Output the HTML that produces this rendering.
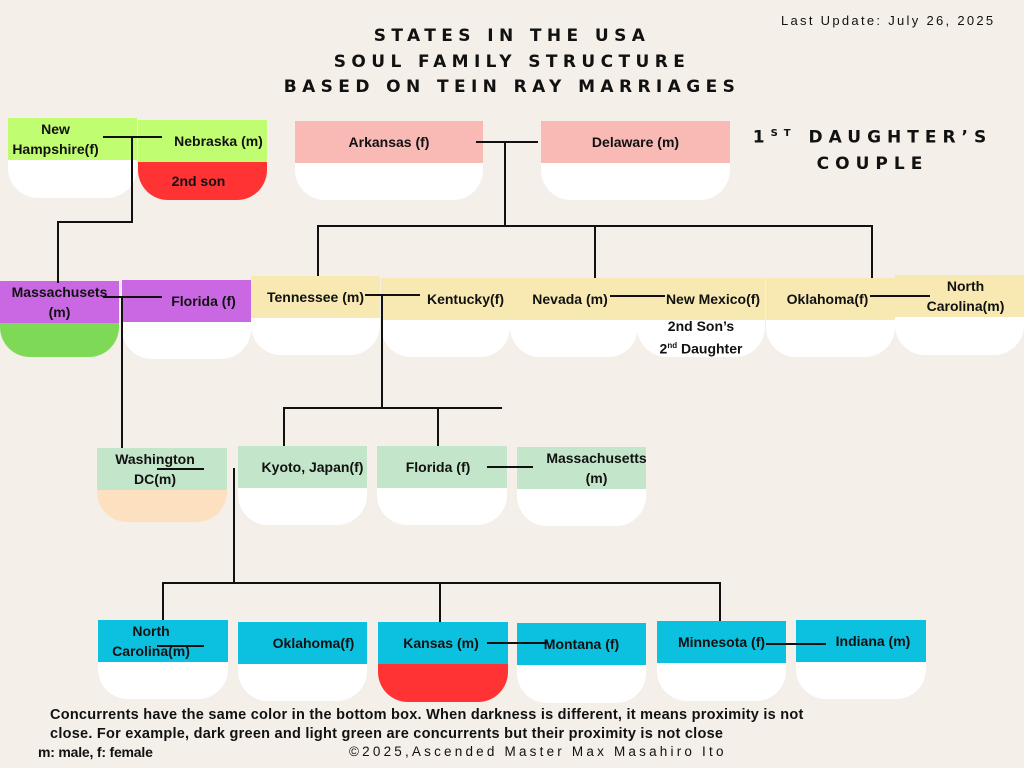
<!DOCTYPE html>
<html><head><meta charset="utf-8"><style>
*{margin:0;padding:0;box-sizing:border-box}
body{width:1024px;height:768px;background:#f4efe9;position:relative;overflow:hidden;font-family:"Liberation Sans",sans-serif;color:#111}
.c{position:absolute;border-bottom-left-radius:30px;border-bottom-right-radius:30px;overflow:hidden;background:#fff}
.h{height:42px;display:flex;align-items:center;justify-content:center;text-align:center;font-weight:bold;font-size:14px;line-height:20px}
.b{position:absolute;left:0;right:0;top:42px;bottom:0}
.l{position:absolute;background:#111}
.t{position:absolute;font-weight:900;font-size:17px;letter-spacing:5.4px;text-align:center;white-space:nowrap;font-family:'DejaVu Sans',sans-serif;font-weight:bold}
</style></head><body>

<div class="t" style="left:212px;top:24px;width:600px;line-height:25.5px">STATES IN THE USA<br>SOUL FAMILY STRUCTURE<br>BASED ON TEIN RAY MARRIAGES</div>
<div style="position:absolute;left:781px;top:13px;font-size:13px;letter-spacing:2.3px;white-space:nowrap">Last Update: July 26, 2025</div>
<div class="t" style="left:740px;top:121px;width:265px;line-height:26px;letter-spacing:6px">1<sup style="font-size:10px">ST</sup> DAUGHTER’S<br>COUPLE</div>

<!-- row1 -->
<div class="c" style="left:8px;top:118px;width:129px;height:80px"><div class="h" style="background:#c1fd70;padding-right:34px">New<br>Hampshire(f)</div></div>
<div class="c" style="left:138px;top:120px;width:129px;height:80px"><div class="h" style="background:#c1fd70;padding-left:32px">Nebraska (m)</div><div class="b" style="background:#ff3333;display:flex;align-items:center;justify-content:center;font-weight:bold;font-size:14px;padding-right:8px">2nd son</div></div>
<div class="c" style="left:295px;top:121px;width:188px;height:79px"><div class="h" style="background:#f9bab5">Arkansas (f)</div></div>
<div class="c" style="left:541px;top:121px;width:189px;height:79px"><div class="h" style="background:#f9bab5">Delaware (m)</div></div>

<!-- row2 -->
<div class="c" style="left:0;top:281px;width:119px;height:76px"><div class="h" style="background:#c968e2">Massachusets<br>(m)</div><div class="b" style="background:#7ed957"></div></div>
<div class="c" style="left:122px;top:280px;width:129px;height:79px"><div class="h" style="background:#c968e2;padding-left:34px">Florida (f)</div></div>
<div class="c" style="left:251px;top:276px;width:129px;height:79px"><div class="h" style="background:#f8e9b2">Tennessee (m)</div></div>
<div class="c" style="left:381px;top:278px;width:129px;height:79px"><div class="h" style="background:#f8e9b2;padding-left:40px">Kentucky(f)</div></div>
<div class="c" style="left:510px;top:278px;width:128px;height:79px"><div class="h" style="background:#f8e9b2;padding-right:8px">Nevada (m)</div></div>
<div class="c" style="left:637px;top:278px;width:128px;height:79px"><div class="h" style="background:#f8e9b2;padding-left:24px">New Mexico(f)</div><div class="b" style="text-align:center;font-weight:bold;font-size:14px;line-height:19px;top:39px">2nd Son’s<br>2<sup style="font-size:8px">nd</sup> Daughter</div></div>
<div class="c" style="left:766px;top:278px;width:129px;height:79px"><div class="h" style="background:#f8e9b2;padding-right:6px">Oklahoma(f)</div></div>
<div class="c" style="left:895px;top:275px;width:129px;height:80px"><div class="h" style="background:#f8e9b2;padding-left:12px">North<br>Carolina(m)</div></div>

<!-- row3 -->
<div class="c" style="left:97px;top:448px;width:130px;height:74px"><div class="h" style="background:#c3e5c9;padding-right:14px">Washington<br>DC(m)</div><div class="b" style="background:#fde0c0"></div></div>
<div class="c" style="left:238px;top:446px;width:129px;height:79px"><div class="h" style="background:#c3e5c9;padding-left:20px">Kyoto, Japan(f)</div></div>
<div class="c" style="left:377px;top:446px;width:130px;height:79px"><div class="h" style="background:#c3e5c9;padding-right:8px">Florida (f)</div></div>
<div class="c" style="left:517px;top:447px;width:129px;height:79px"><div class="h" style="background:#c3e5c9;padding-left:30px">Massachusetts<br>(m)</div></div>

<!-- row4 -->
<div class="c" style="left:98px;top:620px;width:130px;height:79px"><div class="h" style="background:#0cc0df;padding-right:24px">North<br>Carolina(m)</div></div>
<div class="c" style="left:238px;top:622px;width:129px;height:79px"><div class="h" style="background:#0cc0df;padding-left:22px">Oklahoma(f)</div></div>
<div class="c" style="left:378px;top:622px;width:130px;height:80px"><div class="h" style="background:#0cc0df;padding-right:4px">Kansas (m)</div><div class="b" style="background:#ff3333"></div></div>
<div class="c" style="left:517px;top:623px;width:129px;height:80px"><div class="h" style="background:#0cc0df">Montana (f)</div></div>
<div class="c" style="left:657px;top:621px;width:129px;height:80px"><div class="h" style="background:#0cc0df">Minnesota (f)</div></div>
<div class="c" style="left:796px;top:620px;width:130px;height:79px"><div class="h" style="background:#0cc0df;padding-left:24px">Indiana (m)</div></div>

<!-- lines -->
<div class="l" style="left:103px;top:136px;width:59px;height:2px"></div>
<div class="l" style="left:131px;top:136px;width:2px;height:87px"></div>
<div class="l" style="left:57px;top:221px;width:76px;height:2px"></div>
<div class="l" style="left:57px;top:221px;width:2px;height:62px"></div>

<div class="l" style="left:476px;top:141px;width:62px;height:2px"></div>
<div class="l" style="left:504px;top:141px;width:2px;height:86px"></div>
<div class="l" style="left:317px;top:225px;width:556px;height:2px"></div>
<div class="l" style="left:317px;top:225px;width:2px;height:51px"></div>
<div class="l" style="left:594px;top:225px;width:2px;height:53px"></div>
<div class="l" style="left:871px;top:225px;width:2px;height:53px"></div>

<div class="l" style="left:103px;top:296px;width:59px;height:2px"></div>
<div class="l" style="left:121px;top:296px;width:2px;height:152px"></div>

<div class="l" style="left:365px;top:294px;width:55px;height:2px"></div>
<div class="l" style="left:381px;top:294px;width:2px;height:114px"></div>
<div class="l" style="left:283px;top:407px;width:219px;height:2px"></div>
<div class="l" style="left:283px;top:407px;width:2px;height:39px"></div>
<div class="l" style="left:437px;top:407px;width:2px;height:39px"></div>

<div class="l" style="left:610px;top:295px;width:55px;height:2px"></div>
<div class="l" style="left:870px;top:295px;width:60px;height:2px"></div>

<div class="l" style="left:157px;top:468px;width:47px;height:2px"></div>
<div class="l" style="left:233px;top:468px;width:2px;height:115px"></div>
<div class="l" style="left:162px;top:582px;width:559px;height:2px"></div>
<div class="l" style="left:162px;top:582px;width:2px;height:38px"></div>
<div class="l" style="left:439px;top:582px;width:2px;height:40px"></div>
<div class="l" style="left:719px;top:582px;width:2px;height:39px"></div>

<div class="l" style="left:487px;top:466px;width:46px;height:2px"></div>
<div class="l" style="left:157px;top:645px;width:47px;height:2px"></div>
<div class="l" style="left:487px;top:642px;width:60px;height:2px"></div>
<div class="l" style="left:766px;top:643px;width:60px;height:2px"></div>

<div style="position:absolute;left:50px;top:706px;font-size:14.5px;font-weight:bold;line-height:19px;white-space:nowrap;letter-spacing:0.25px">Concurrents have the same color in the bottom box. When darkness is different, it means proximity is not<br>close. For example, dark green and light green are concurrents but their proximity is not close</div>
<div style="position:absolute;left:38px;top:744px;font-size:14px;font-weight:bold;white-space:nowrap;letter-spacing:-0.2px">m: male, f: female</div>
<div style="position:absolute;left:349px;top:744px;font-size:13.5px;letter-spacing:3.2px;white-space:nowrap">©2025,Ascended Master Max Masahiro Ito</div>
</body></html>
